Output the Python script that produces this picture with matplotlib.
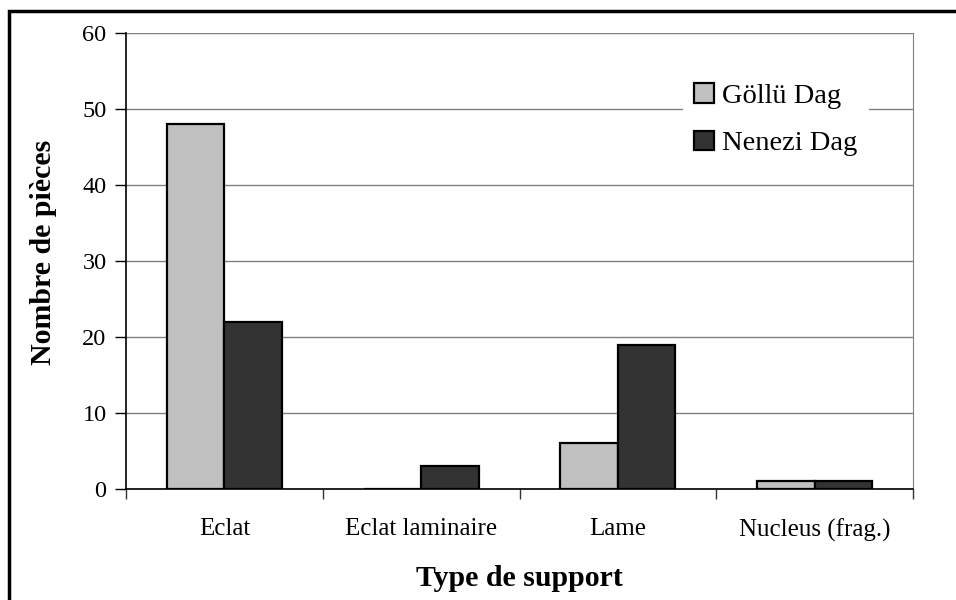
import matplotlib
matplotlib.use("Agg")
import matplotlib.pyplot as plt
import numpy as np
from matplotlib.patches import Rectangle

categories = ["Eclat", "Eclat laminaire", "Lame", "Nucleus (frag.)"]
series_names = ["Göllü Dag", "Nenezi Dag"]
gollu = [48, 0, 6, 1]
nenezi = [22, 3, 19, 1]
yticks = [0, 10, 20, 30, 40, 50, 60]

plt.rcParams['font.family'] = ['Liberation Serif', 'DejaVu Serif']

fig = plt.figure(figsize=(9.56, 6.0), dpi=100)
ax = fig.add_axes([126/956, 1-489/600, (913-126)/956, (489-33)/600])

x = np.arange(len(categories))
w = 0.292
ax.bar(x - w/2, gollu, w, color='#C0C0C0', edgecolor='black', linewidth=1.6, label=series_names[0], zorder=3)
ax.bar(x + w/2, nenezi, w, color='#333333', edgecolor='black', linewidth=1.6, label=series_names[1], zorder=3)

ax.set_xlim(-0.5, len(categories) - 0.5)
ax.set_ylim(0, 60)
ax.set_yticks(yticks)
ax.set_yticklabels([str(v) for v in yticks], fontsize=17.5)
ax.yaxis.grid(True, color='#808080', linewidth=1.0, zorder=0)
ax.set_axisbelow(True)

ax.set_xticks(x)
ax.set_xticklabels(categories, fontsize=18)
ax.tick_params(axis='x', which='major', length=0, pad=21)
ax.set_xticks(np.arange(-0.5, len(categories), 1.0), minor=True)
ax.tick_params(axis='x', which='minor', length=7, width=1, color='#333333', direction='out')
ax.tick_params(axis='y', which='major', length=8, width=1, direction='out', pad=6)

for s in ['left', 'bottom']:
    ax.spines[s].set_color('black')
    ax.spines[s].set_linewidth(1.2)
ax.spines['right'].set_color('#808080')
ax.spines['top'].set_visible(False)

ax.set_ylabel("Nombre de pièces", fontsize=21.5, fontweight='bold')
ax.yaxis.set_label_coords(-0.0875, 0.52)
ax.set_xlabel("Type de support", fontsize=21.5, fontweight='bold', labelpad=17)

leg = ax.legend(loc='upper left', bbox_to_anchor=(683/956, 1-72/600), bbox_transform=fig.transFigure,
                fontsize=20.5, frameon=True, facecolor='white', edgecolor='none', framealpha=1,
                handlelength=0.68, handleheight=0.68, handletextpad=0.3, labelspacing=0.75,
                borderpad=0.4, borderaxespad=0, fancybox=False)

fig.patches.append(Rectangle((9/956, -0.1), 1.0, 1 - 11/600 + 0.1, transform=fig.transFigure,
                             fill=False, edgecolor='black', linewidth=2.5, zorder=10))

fig.savefig("out.png", dpi=100)
